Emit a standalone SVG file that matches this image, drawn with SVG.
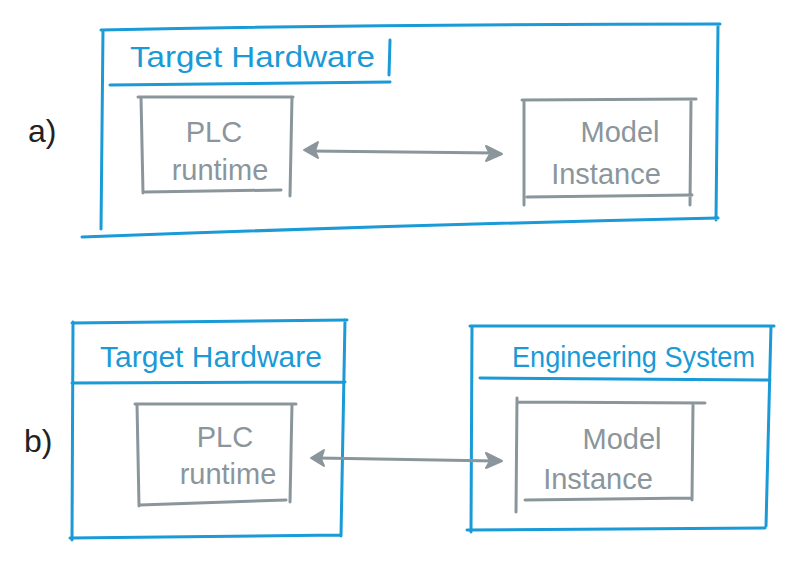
<svg xmlns="http://www.w3.org/2000/svg" width="795" height="565" viewBox="0 0 795 565">
<defs>
<style>
.b{fill:none;stroke:#1a9ad6;stroke-width:3;stroke-linecap:round;stroke-linejoin:round}
.g{fill:none;stroke:#8a969c;stroke-width:3;stroke-linecap:round;stroke-linejoin:round}
.tb{fill:#1a9ad6;font-family:"Liberation Sans",Arial,sans-serif;font-size:29px}
.tg{fill:#8a969c;font-family:"Liberation Sans",Arial,sans-serif;font-size:29px}
.tk{fill:#222;font-family:"Liberation Sans",Arial,sans-serif;font-size:32px}
.ah{fill:#8a969c;stroke:#8a969c;stroke-width:2;stroke-linejoin:round}
</style>
</defs>
<rect width="795" height="565" fill="#fff"/>
<text class="tk" x="28" y="142">a)</text>
<text class="tk" x="24" y="452">b)</text>

<g id="a-target">
<path class="b" d="M101 30 Q400 24 720 24 M103 30 L101 229 M718 25 L716 220 M82 237 Q400 225 718 218"/>
<path class="b" d="M110 85 L390 82 M390 40 L389 75"/>
<text class="tb" x="130" y="67" textLength="245" lengthAdjust="spacingAndGlyphs">Target Hardware</text>
</g>
<g id="a-plc">
<path class="g" d="M138 97 L293 97 M141 97 L143 193 M292 97 L290 196 M145 192 L281 190"/>
<text class="tg" x="214" y="142" text-anchor="middle">PLC</text>
<text class="tg" x="220" y="180" text-anchor="middle">runtime</text>
</g>
<g id="a-model">
<path class="g" d="M522 100 L696 99 M524 100 L524 205 M691 100 L690 205 M527 197 L692 195"/>
<text class="tg" x="620" y="142" text-anchor="middle">Model</text>
<text class="tg" x="606" y="184" text-anchor="middle">Instance</text>
</g>

<g id="b-target">
<path class="b" d="M72 323 L347 320 M73 322 L72 540 M345 320 L341 536 M70 538 L340 535 M72 383 L345 382"/>
<text class="tb" x="100" y="367" textLength="222" lengthAdjust="spacingAndGlyphs">Target Hardware</text>
</g>
<g id="b-plc">
<path class="g" d="M135 404 L296 404 M137 404 L139 506 M292 404 L290 502 M140 505 L286 500"/>
<text class="tg" x="225" y="447" text-anchor="middle">PLC</text>
<text class="tg" x="228" y="484" text-anchor="middle">runtime</text>
</g>
<g id="b-eng">
<path class="b" d="M470 326 L774 326 M472 326 L471 532 M771 326 L766 526 M467 530 L765 528 M480 378 L770 380"/>
<text class="tb" x="512" y="367" textLength="243" lengthAdjust="spacingAndGlyphs">Engineering System</text>
</g>
<g id="b-model">
<path class="g" d="M517 402 L705 403 M517 398 L516 512 M693 404 L692 500 M525 500 L692 498"/>
<text class="tg" x="622" y="449" text-anchor="middle">Model</text>
<text class="tg" x="598" y="489" text-anchor="middle">Instance</text>
</g>

<g id="connectors">
<path class="g" d="M310 151 L496 153"/>
<path class="ah" d="M304 150 L318 142 L315 151 L318 158 Z"/>
<path class="ah" d="M502 154 L486 146 L490 154 L486 161 Z"/>
<path class="g" d="M318 458 L496 461"/>
<path class="ah" d="M311 458 L324 450 L321 459 L324 466 Z"/>
<path class="ah" d="M502 461 L486 453 L490 461 L486 468 Z"/>
</g>
</svg>
